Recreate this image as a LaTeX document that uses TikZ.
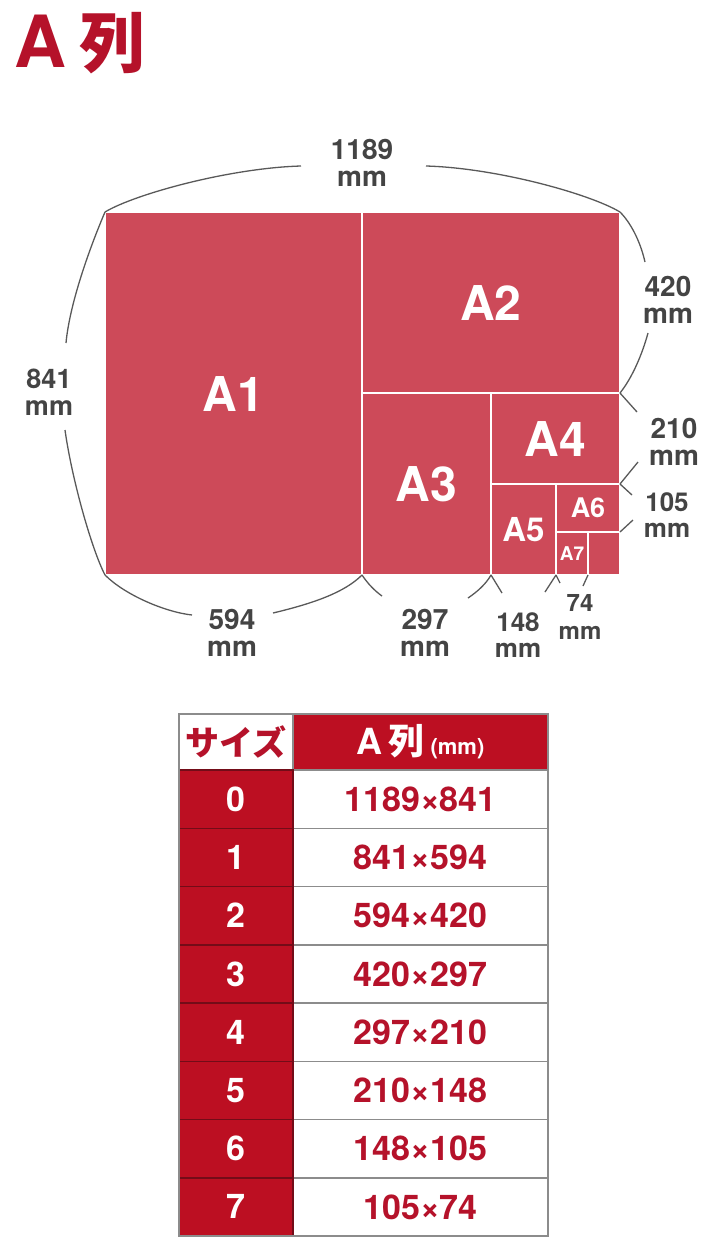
\documentclass[tikz,border=0pt]{standalone}
\usepackage{fontspec}
\setmainfont{TeX Gyre Heros}
\newfontfamily\cjk{Noto Sans CJK JP}
\usetikzlibrary{positioning}

\definecolor{sheetred}{RGB}{205,74,89}
\definecolor{tablered}{RGB}{188,15,34}
\definecolor{inkred}{RGB}{181,18,42}
\definecolor{dimgray}{RGB}{68,68,68}
\definecolor{rulegray}{RGB}{140,140,140}
\definecolor{darkline}{RGB}{115,12,24}
\newcommand{\fs}[1]{\fontsize{#1}{#1}\selectfont}

\tikzset{
  sheet/.style={draw=white, line width=2pt, fill=sheetred, inner sep=0pt,
    outer sep=0pt, text=white},
  dimtext/.style={align=center, inner sep=0pt, text=dimgray},
  brace/.style={draw=black!65, line width=1.3pt},
  numcell/.style={fill=tablered, draw=darkline, line width=1.5pt, text=white,
    font=\bfseries\fs{34}, minimum width=114pt, minimum height=58.25pt,
    inner sep=0pt, outer sep=0pt},
  dimcell/.style={fill=white, draw=rulegray, line width=1.5pt, text=inkred,
    font=\bfseries\fs{34}, minimum width=255pt, minimum height=58.25pt,
    inner sep=0pt, outer sep=0pt}
}

\begin{document}
\begin{tikzpicture}[x=1pt,y=-1pt]
  \useasboundingbox (0,0) rectangle (728,1256);
  % title
  \node[inner sep=0pt, text=inkred, font=\bfseries\fs{72}] (ttla) at (40,41) {A};
  \node[inner sep=0pt, text=inkred, font=\cjk\bfseries\fs{66}] (ttlk) at (112,43) {列};

  % sheets
  \node[sheet, minimum width=257pt, minimum height=363pt, font=\bfseries\fs{48}] (a1) at (233.5,393.5) {A1};
  \node[sheet, minimum width=258pt, minimum height=181pt, font=\bfseries\fs{48}] (a2) at (491,302.5) {A2};
  \node[sheet, minimum width=129pt, minimum height=182pt, font=\bfseries\fs{48}] (a3) at (426.5,484) {A3};
  \node[sheet, minimum width=129pt, minimum height=91pt, font=\bfseries\fs{48}] (a4) at (555.5,438.5) {A4};
  \node[sheet, minimum width=65pt, minimum height=91pt, font=\bfseries\fs{33}] (a5) at (523.5,529.5) {A5};
  \node[sheet, minimum width=64pt, minimum height=48pt, font=\bfseries\fs{27}] (a6) at (588,508) {A6};
  \node[sheet, minimum width=32pt, minimum height=43pt, font=\bfseries\fs{19}] (a7) at (572,553.5) {A7};
  \node[sheet, minimum width=32pt, minimum height=43pt] (a8) at (604,553.5) {};

  % dimension labels
  \node[dimtext, font=\bfseries\fontsize{28}{27}\selectfont] (d1189) at (362,163) {1189\\mm};
  \node[dimtext, font=\bfseries\fontsize{27}{27}\selectfont] (d841) at (49,392) {841\\mm};
  \node[dimtext, font=\bfseries\fontsize{28}{27}\selectfont] (d420) at (668,300) {420\\mm};
  \node[dimtext, font=\bfseries\fontsize{28}{27}\selectfont] (d210) at (674,442) {210\\mm};
  \node[dimtext, font=\bfseries\fontsize{26}{26}\selectfont] (d105) at (667,515) {105\\mm};
  \node[dimtext, font=\bfseries\fontsize{28}{27}\selectfont] (d594) at (232,633) {594\\mm};
  \node[dimtext, font=\bfseries\fontsize{28}{27}\selectfont] (d297) at (425,633) {297\\mm};
  \node[dimtext, font=\bfseries\fontsize{26}{26}\selectfont] (d148) at (518,635) {148\\mm};
  \node[dimtext, font=\bfseries\fontsize{24}{28}\selectfont] (d74) at (580,617) {74\\mm};

  % brace ends
  \coordinate (t1) at (301,166);
  \coordinate (t2) at (426,166);
  \coordinate (l1) at (66,343);
  \coordinate (l2) at (65,430);
  \coordinate (r1) at (645,262);
  \coordinate (r2) at (648,333);
  \coordinate (r3) at (637,412);
  \coordinate (r4) at (638,462);
  \coordinate (r5) at (632,495);
  \coordinate (r6) at (633,520);
  \coordinate (b1) at (192,615);
  \coordinate (b2) at (273,613);
  \coordinate (b3) at (382,596);
  \coordinate (b4) at (468,598);
  \coordinate (b5) at (502,593);
  \coordinate (b6) at (545,592);
  \coordinate (b7) at (560,583);
  \coordinate (b8) at (583,586);

  % braces
  \draw[brace] (a1.north west) .. controls (135,194) and (230,168) .. (t1);
  \draw[brace] (t2) .. controls (497,168) and (590,194) .. (a2.north east);
  \draw[brace] (a1.north west) .. controls (93,240) and (70,300) .. (l1);
  \draw[brace] (l2) .. controls (72,480) and (92,550) .. (a1.south west);
  \draw[brace] (a2.north east) .. controls (630,222) and (640,240) .. (r1);
  \draw[brace] (r2) .. controls (642,355) and (632,378) .. (a2.south east);
  \draw[brace] (a2.south east) -- (r3);
  \draw[brace] (r4) -- (a4.south east);
  \draw[brace] (a4.south east) -- (r5);
  \draw[brace] (r6) -- (a6.south east);
  \draw[brace] (a1.south west) .. controls (125,595) and (165,612) .. (b1);
  \draw[brace] (b2) .. controls (315,603) and (345,592) .. (a1.south east);
  \draw[brace] (a1.south east) .. controls (368,584) and (375,591) .. (b3);
  \draw[brace] (b4) .. controls (477,592) and (486,584) .. (a3.south east);
  \draw[brace] (a3.south east) -- (b5);
  \draw[brace] (b6) -- (a5.south east);
  \draw[brace] (a5.south east) -- (b7);
  \draw[brace] (b8) -- (a7.south east);

  % table
  \node[dimcell, fill=tablered, draw=darkline, text=white, minimum height=56pt,
    font=\bfseries\fs{36}] (hdim) at (420.5,742) {A\,{\cjk 列}\,{\fs{22}(mm)}};
  \node[dimcell, minimum width=114pt, minimum height=56pt] (hsize) at (236,742)
    {\cjk サイズ};
  \foreach \n/\dims in {0/1189×841,1/841×594,2/594×420,3/420×297,
                        4/297×210,5/210×148,6/148×105,7/105×74} {
    \node[dimcell] (d\n) at (420.5,{799.125+58.25*\n}) {\dims};
    \node[numcell] (s\n) at (236,{799.125+58.25*\n}) {\n};
  }
  \draw[rulegray, line width=2pt] (hsize.north west) rectangle (d7.south east);
\end{tikzpicture}
\end{document}
